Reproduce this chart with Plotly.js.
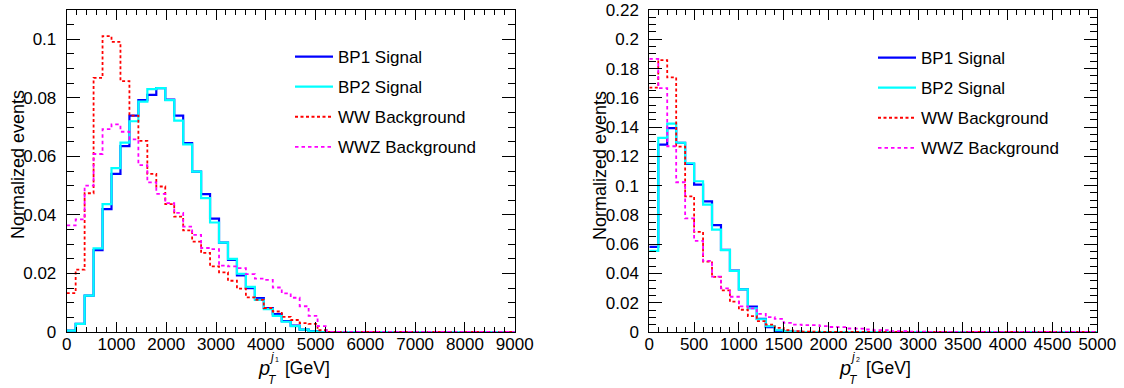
<!DOCTYPE html>
<html>
<head>
<meta charset="utf-8">
<script src="https://cdn.plot.ly/plotly-3.0.1.min.js"></script>
<style>
  html, body { margin: 0; padding: 0; background: #ffffff; }
  #chart { width: 1124px; height: 388px; }
</style>
</head>
<body>
<div id="chart"></div>
<script>
// ---------------- data ----------------
// Leading jet pT: 50 bins, 0 - 9000 GeV
const j1Min = 0, j1Max = 9000, j1Bins = 50;
// Sub-leading jet pT: 50 bins, 0 - 5000 GeV
const j2Min = 0, j2Max = 5000, j2Bins = 50;

const seriesNames = ["BP1 Signal", "BP2 Signal", "WW Background", "WWZ Background"];

const bp1_j1 = [0.0005, 0.0028, 0.0124, 0.0280, 0.0420, 0.0540, 0.0635, 0.0739, 0.0792, 0.0810,
                0.0833, 0.0794, 0.0739, 0.0645, 0.0548, 0.0471, 0.0387, 0.0305, 0.0246, 0.0193,
                0.0150, 0.0116, 0.0082, 0.0061, 0.0037, 0.0022, 0.0008, 0.0003, 0, 0,
                0, 0, 0, 0, 0, 0, 0, 0, 0, 0,
                0, 0, 0, 0, 0, 0, 0, 0, 0, 0];
const bp2_j1 = [0.0005, 0.0028, 0.0124, 0.0286, 0.0437, 0.0560, 0.0647, 0.0720, 0.0787, 0.0830,
                0.0833, 0.0792, 0.0722, 0.0641, 0.0548, 0.0457, 0.0374, 0.0305, 0.0250, 0.0199,
                0.0154, 0.0110, 0.0078, 0.0055, 0.0035, 0.0020, 0.0008, 0.0002, 0, 0,
                0, 0, 0, 0, 0, 0, 0, 0, 0, 0,
                0, 0, 0, 0, 0, 0, 0, 0, 0, 0];
const ww_j1  = [0.0133, 0.0213, 0.0474, 0.0868, 0.1011, 0.0991, 0.0857, 0.0739, 0.0653, 0.0540,
                0.0497, 0.0437, 0.0394, 0.0347, 0.0309, 0.0270, 0.0224, 0.0204, 0.0175, 0.0148,
                0.0118, 0.0110, 0.0082, 0.0070, 0.0052, 0.0041, 0.0030, 0.0028, 0.0006, 0,
                0, 0, 0, 0, 0, 0, 0, 0, 0, 0,
                0, 0, 0, 0, 0, 0, 0, 0, 0, 0];
const wwz_j1 = [0.0364, 0.0385, 0.0500, 0.0608, 0.0693, 0.0709, 0.0684, 0.0658, 0.0570, 0.0511,
                0.0472, 0.0440, 0.0407, 0.0360, 0.0332, 0.0287, 0.0283, 0.0227, 0.0224, 0.0218,
                0.0198, 0.0182, 0.0178, 0.0152, 0.0132, 0.0117, 0.0088, 0.0055, 0.0020, 0,
                0, 0, 0, 0, 0, 0, 0, 0, 0, 0,
                0, 0, 0, 0, 0, 0, 0, 0, 0, 0];

const bp1_j2 = [0.0582, 0.1280, 0.1393, 0.1293, 0.1149, 0.1007, 0.0893, 0.0730, 0.0561, 0.0420,
                0.0291, 0.0173, 0.0090, 0.0033, 0.0008, 0.0003, 0.0001, 0, 0, 0,
                0, 0, 0, 0, 0, 0, 0, 0, 0, 0,
                0, 0, 0, 0, 0, 0, 0, 0, 0, 0,
                0, 0, 0, 0, 0, 0, 0, 0, 0, 0];
const bp2_j2 = [0.0554, 0.1327, 0.1423, 0.1293, 0.1153, 0.1030, 0.0870, 0.0699, 0.0559, 0.0417,
                0.0291, 0.0161, 0.0087, 0.0040, 0.0012, 0.0004, 0.0001, 0, 0, 0,
                0, 0, 0, 0, 0, 0, 0, 0, 0, 0,
                0, 0, 0, 0, 0, 0, 0, 0, 0, 0,
                0, 0, 0, 0, 0, 0, 0, 0, 0, 0];
const ww_j2  = [0.1670, 0.1857, 0.1740, 0.1267, 0.0927, 0.0684, 0.0481, 0.0376, 0.0285, 0.0207,
                0.0152, 0.0108, 0.0074, 0.0051, 0.0028, 0.0012, 0.0006, 0.0003, 0.0002, 0.0001,
                0, 0, 0, 0, 0, 0, 0, 0, 0, 0,
                0, 0, 0, 0, 0, 0, 0, 0, 0, 0,
                0, 0, 0, 0, 0, 0, 0, 0, 0, 0];
const wwz_j2 = [0.1866, 0.1666, 0.1269, 0.1023, 0.0776, 0.0623, 0.0486, 0.0378, 0.0298, 0.0241,
                0.0175, 0.0161, 0.0124, 0.0101, 0.0090, 0.0062, 0.0051, 0.0047, 0.0047, 0.0040,
                0.0034, 0.0033, 0.0024, 0.0023, 0.0017, 0.0013, 0.0013, 0.0006, 0.0006, 0.0003,
                0.0002, 0.0001, 0, 0, 0, 0, 0, 0, 0, 0,
                0, 0, 0, 0, 0, 0, 0, 0, 0, 0];

// ---------------- helpers ----------------
function binEdges(lo, hi, n) {
  const w = (hi - lo) / n, e = [];
  for (let i = 0; i <= n; i++) e.push(lo + i * w);
  return e;
}
function stepVals(v) { return v.concat([v[v.length - 1]]); }

const FONT = "Liberation Sans, Arial, Helvetica, sans-serif";
const styles = [
  {color: "#0000ff", width: 2.2, dash: "solid"},
  {color: "#00ffff", width: 2.2, dash: "solid"},
  {color: "#ff0000", width: 1.8, dash: "3px,2.5px"},
  {color: "#ff00ff", width: 1.8, dash: "3.5px,3px"}
];

const e1 = binEdges(j1Min, j1Max, j1Bins);
const e2 = binEdges(j2Min, j2Max, j2Bins);
const left = [bp1_j1, bp2_j1, ww_j1, wwz_j1];
const right = [bp1_j2, bp2_j2, ww_j2, wwz_j2];

const traces = [];
left.forEach((v, i) => traces.push({
  x: e1, y: stepVals(v), type: "scatter", mode: "lines",
  line: {shape: "hv", color: styles[i].color, width: styles[i].width, dash: styles[i].dash},
  name: seriesNames[i], legend: "legend", legendgroup: "L" + i,
  xaxis: "x", yaxis: "y", hoverinfo: "skip"
}));
right.forEach((v, i) => traces.push({
  x: e2, y: stepVals(v), type: "scatter", mode: "lines",
  line: {shape: "hv", color: styles[i].color, width: styles[i].width, dash: styles[i].dash},
  name: seriesNames[i], legend: "legend2", legendgroup: "R" + i,
  xaxis: "x2", yaxis: "y2", hoverinfo: "skip"
}));

const W = 1124, H = 388;
const px = x => x / W;
const py = y => 1 - y / H;

function xAxis(range, dtick, minor, domain, anchor) {
  return {
    domain: domain, range: range, anchor: anchor,
    dtick: dtick, tick0: 0, ticks: "inside", ticklen: 10, tickwidth: 1, tickcolor: "#000",
    minor: {dtick: minor, tick0: 0, ticks: "inside", ticklen: 5, tickwidth: 1, tickcolor: "#000", showgrid: false},
    showline: true, linecolor: "#000", linewidth: 1, mirror: "allticks",
    showgrid: false, zeroline: false, fixedrange: true,
    tickfont: {family: FONT, size: 17, color: "#000"}, ticklabelstandoff: -3
  };
}
function yAxis(range, domain, anchor) {
  return {
    domain: domain, range: range, anchor: anchor,
    dtick: 0.02, tick0: 0, ticks: "inside", ticklen: 13, tickwidth: 1, tickcolor: "#000",
    minor: {dtick: 0.005, tick0: 0, ticks: "inside", ticklen: 7, tickwidth: 1, tickcolor: "#000", showgrid: false},
    showline: true, linecolor: "#000", linewidth: 1, mirror: "allticks",
    showgrid: false, zeroline: false, fixedrange: true,
    tickfont: {family: FONT, size: 17, color: "#000"}, ticklabelstandoff: 6
  };
}

const yDom = [1 - 332 / H, 1 - 10 / H];
const lDom = [px(66.7), px(514.7)];
const rDom = [px(649.3), px(1097.3)];

function xTitle(cx, sub) {
  const f = (t, x, y, size, xa) => ({
    text: t, xref: "paper", yref: "paper", x: px(cx + x), y: py(y),
    xanchor: xa || "left", yanchor: "middle", showarrow: false,
    font: {family: FONT, size: size, color: "#000"}
  });
  return [
    f("<i>p</i>", -36, 368, 20),
    f("<i>T</i>", -26, 380, 12),
    f("<i>j</i>", -25, 357, 12),
    f(sub, -19, 359, 7),
    f("[GeV]", -9, 368, 17.5)
  ];
}
function yTitle(cx) {
  return {
    text: "Normalized events", xref: "paper", yref: "paper", x: px(cx), y: py(165),
    xanchor: "center", yanchor: "middle", textangle: -90, showarrow: false,
    font: {family: FONT, size: 18, color: "#000"}
  };
}

const legendBase = {
  bgcolor: "rgba(0,0,0,0)", borderwidth: 0, xanchor: "left", yanchor: "top",
  font: {family: FONT, size: 17, color: "#000"}, tracegroupgap: 5,
  itemwidth: 38, traceorder: "grouped"
};

const layout = {
  width: W, height: H, margin: {l: 0, r: 0, t: 0, b: 0},
  paper_bgcolor: "#fff", plot_bgcolor: "#fff", showlegend: true,
  xaxis: xAxis([j1Min, j1Max], 1000, 200, lDom, "y"),
  yaxis: yAxis([0, 0.11], yDom, "x"),
  xaxis2: xAxis([j2Min, j2Max], 500, 100, rDom, "y2"),
  yaxis2: yAxis([0, 0.22], yDom, "x2"),
  legend: Object.assign({}, legendBase, {x: px(290), y: py(39)}),
  legend2: Object.assign({}, legendBase, {x: px(873), y: py(40)}),
  annotations: [].concat(xTitle(292, "1"), xTitle(873, "2"), [yTitle(18), yTitle(600)])
};

Plotly.newPlot("chart", traces, layout, {staticPlot: true, displayModeBar: false});
</script>
</body>
</html>
